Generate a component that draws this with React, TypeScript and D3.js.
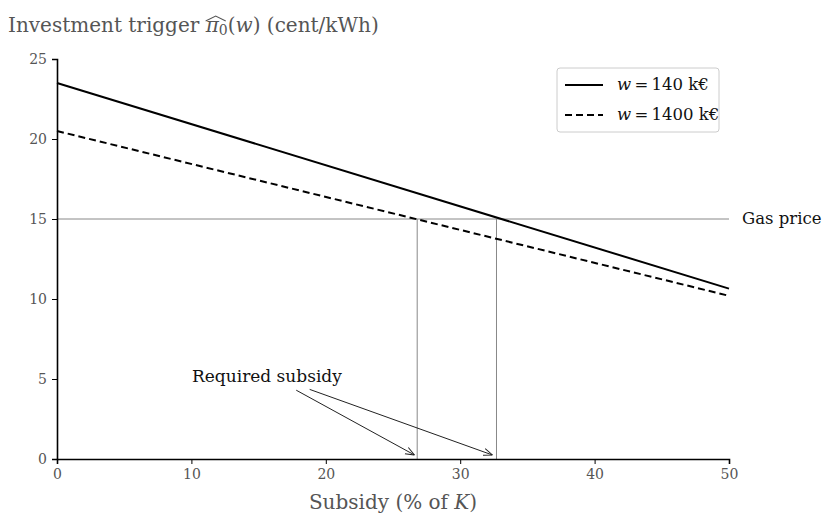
import React, { useRef, useEffect } from "react";
import { scaleLinear, line, axisBottom, axisLeft, select } from "d3";

// Subsidy (% of K) vs investment trigger
const subsidy = [0, 50];
const triggerW140 = [23.5, 10.65];
const triggerW1400 = [20.5, 10.2];
const gasPrice = 15;
const requiredSubsidy = [26.8, 32.7];
const xTicks = [0, 10, 20, 30, 40, 50];
const yTicks = [0, 5, 10, 15, 20, 25];
const legendLabels = ["140 k€", "1400 k€"];
// annotation arrows: start (near text) -> end (at the axis)
const arrowStarts = [[17.8, 4.3], [18.8, 4.35]];
const arrowEnds = [[26.6, 0.25], [32.4, 0.25]];

const W = 823, H = 520;
const margin = { top: 59, right: 94, bottom: 61, left: 57 };
const FONT = "'DejaVu Serif', serif";
const GREY = "#555";

export default function App() {
  const svgRef = useRef<SVGSVGElement>(null);

  useEffect(() => {
    const svg = select(svgRef.current);
    svg.selectAll("*").remove();

    const x = scaleLinear().domain([0, 50]).range([margin.left, W - margin.right]);
    const y = scaleLinear().domain([0, 25]).range([H - margin.bottom, margin.top]);

    svg.append("defs").append("marker")
      .attr("id", "arr")
      .attr("viewBox", "0 0 10 10")
      .attr("refX", 10).attr("refY", 5)
      .attr("markerWidth", 9).attr("markerHeight", 9)
      .attr("markerUnits", "userSpaceOnUse")
      .attr("orient", "auto")
      .append("path")
      .attr("d", "M0,1 L10,5 L0,9")
      .attr("fill", "none").attr("stroke", "#222").attr("stroke-width", 1.1);

    // gas price line and required subsidy verticals
    svg.append("line")
      .attr("x1", x(0)).attr("x2", x(50))
      .attr("y1", y(gasPrice)).attr("y2", y(gasPrice))
      .attr("stroke", "#888").attr("stroke-width", 1);
    requiredSubsidy.forEach(s => {
      svg.append("line")
        .attr("x1", x(s)).attr("x2", x(s))
        .attr("y1", y(0)).attr("y2", y(gasPrice))
        .attr("stroke", "#888").attr("stroke-width", 1);
    });

    const gen = line<number>().x((_, i) => x(subsidy[i])).y(d => y(d));
    svg.append("path").attr("d", gen(triggerW140))
      .attr("fill", "none").attr("stroke", "#000").attr("stroke-width", 2);
    svg.append("path").attr("d", gen(triggerW1400))
      .attr("fill", "none").attr("stroke", "#000").attr("stroke-width", 2)
      .attr("stroke-dasharray", "7,4");

    // axes
    const gx = svg.append("g")
      .attr("transform", `translate(0,${y(0)})`)
      .call(axisBottom(x).tickValues(xTicks).tickSize(5).tickPadding(5));
    const gy = svg.append("g")
      .attr("transform", `translate(${x(0)},0)`)
      .call(axisLeft(y).tickValues(yTicks).tickSize(5).tickPadding(5));
    [gx, gy].forEach(g => {
      g.attr("font-family", FONT).attr("font-size", 14);
      g.select(".domain").attr("stroke", "#000").attr("stroke-width", 1.6);
      g.selectAll(".tick line").attr("stroke", "#000").attr("stroke-width", 1);
      g.selectAll(".tick text").attr("fill", GREY);
    });

    // gas price label
    svg.append("text")
      .attr("x", x(50) + 13).attr("y", y(gasPrice) + 5)
      .attr("font-family", FONT).attr("font-size", 16.5).attr("fill", "#111")
      .text("Gas price");

    // annotation
    svg.append("text")
      .attr("x", 192).attr("y", 382)
      .attr("font-family", FONT).attr("font-size", 17).attr("fill", "#111")
      .text("Required subsidy");
    arrowStarts.forEach((s, i) => {
      svg.append("line")
        .attr("x1", x(s[0])).attr("y1", y(s[1]))
        .attr("x2", x(arrowEnds[i][0])).attr("y2", y(arrowEnds[i][1]))
        .attr("stroke", "#222").attr("stroke-width", 1)
        .attr("marker-end", "url(#arr)");
    });

    // axis titles
    const title = svg.append("text")
      .attr("x", 8).attr("y", 32)
      .attr("font-family", FONT).attr("font-size", 20).attr("fill", GREY);
    title.append("tspan").text("Investment trigger ");
    const pi = title.append("tspan").attr("font-style", "italic").text("π");
    const sub = title.append("tspan").attr("font-size", 14).attr("dy", 3).text("0");
    title.append("tspan").attr("dy", -3).text("(");
    title.append("tspan").attr("font-style", "italic").text("w");
    title.append("tspan").text(") (cent/kWh)");
    // wide hat over pi and subscript
    const b1 = (pi.node() as SVGGraphicsElement).getBBox();
    const b2 = (sub.node() as SVGGraphicsElement).getBBox();
    const hx0 = b1.x + 1, hx1 = b2.x + b2.width - 2, hy = b1.y + 4;
    svg.append("path")
      .attr("d", `M${hx0},${hy + 4} L${(hx0 + hx1) / 2},${hy - 1} L${hx1},${hy + 4}`)
      .attr("fill", "none").attr("stroke", GREY).attr("stroke-width", 1.1);

    const xl = svg.append("text")
      .attr("x", (x(0) + x(50)) / 2).attr("y", 509)
      .attr("text-anchor", "middle")
      .attr("font-family", FONT).attr("font-size", 20).attr("fill", GREY);
    xl.append("tspan").text("Subsidy (% of ");
    xl.append("tspan").attr("font-style", "italic").text("K");
    xl.append("tspan").text(")");

    // legend
    const lg = svg.append("g").attr("transform", "translate(557,68)");
    lg.append("rect").attr("width", 162).attr("height", 64).attr("rx", 3)
      .attr("fill", "#fff").attr("stroke", "#ccc");
    legendLabels.forEach((lab, i) => {
      const yy = 17 + i * 30;
      lg.append("line").attr("x1", 8).attr("x2", 46).attr("y1", yy).attr("y2", yy)
        .attr("stroke", "#000").attr("stroke-width", 2)
        .attr("stroke-dasharray", i === 1 ? "7,4" : null);
      const t = lg.append("text").attr("x", 60).attr("y", yy + 5)
        .attr("font-family", FONT).attr("font-size", 16.5).attr("fill", "#111");
      t.append("tspan").attr("font-style", "italic").text("w");
      t.append("tspan").text("\u2009=\u2009" + lab);
    });
  }, []);

  return (
    <svg ref={svgRef} width={W} height={H}
      style={{ position: "absolute", left: 0, top: 0, background: "#fff" }} />
  );
}
